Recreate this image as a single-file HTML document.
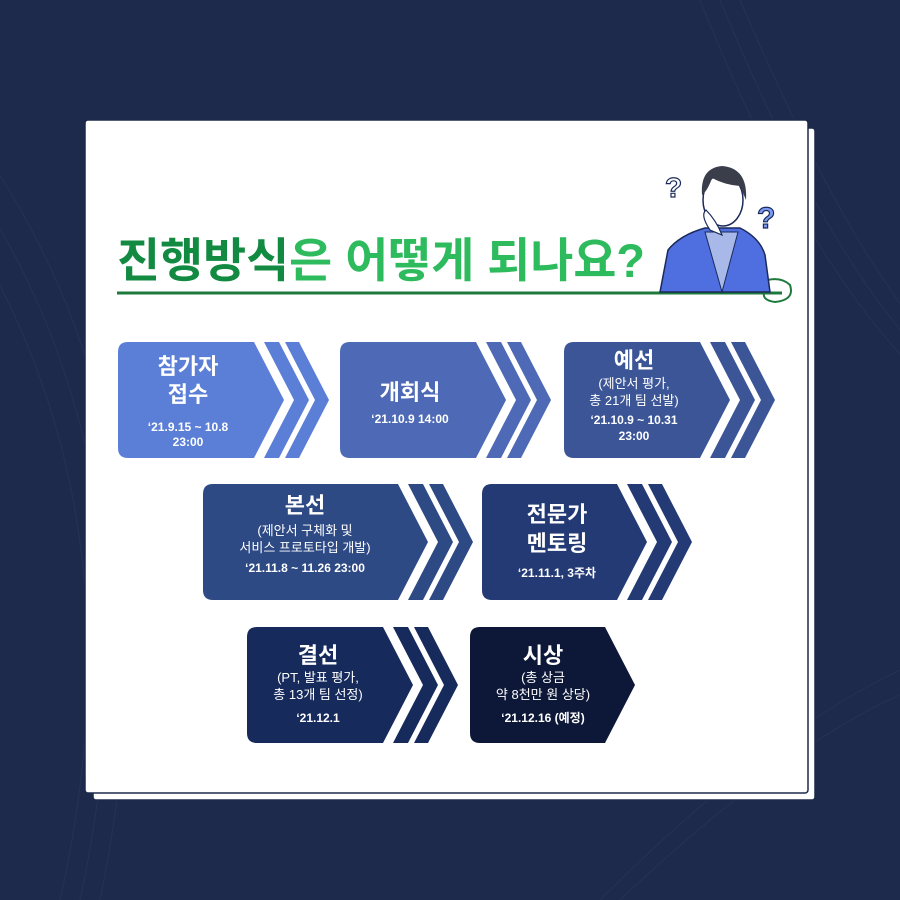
<!DOCTYPE html>
<html><head><meta charset="utf-8"><style>
html,body{margin:0;padding:0}
body{width:900px;height:900px;background:#1d2a4b;overflow:hidden;position:relative;font-family:"Liberation Sans","Noto Sans CJK KR",sans-serif}
</style></head><body>
<svg width="900" height="900" viewBox="0 0 900 900" xmlns="http://www.w3.org/2000/svg" style="position:absolute;left:0;top:0;font-family:'Liberation Sans','Noto Sans CJK KR',sans-serif">
<g fill="none" stroke="#2a3860" stroke-width="1" opacity="0.6">
<path d="M-50 200 Q150 500 60 900"/><path d="M-30 180 Q170 480 80 900"/><path d="M-10 160 Q190 460 100 900"/>
<path d="M700 0 Q820 300 950 400"/><path d="M720 0 Q840 290 950 380"/><path d="M740 0 Q860 280 950 360"/>
<path d="M600 900 Q800 700 950 650"/><path d="M620 900 Q810 720 950 675"/>
</g>
<rect x="93" y="128" width="722" height="672" rx="3" fill="#fff" stroke="#1d2a4b" stroke-width="1.5"/>
<rect x="85" y="120" width="723" height="673" rx="3" fill="#fff" stroke="#1d2a4b" stroke-width="1.5"/>
<text x="117" y="277" font-size="47" font-weight="bold" fill="#138a42" textLength="528" lengthAdjust="spacingAndGlyphs">진행방식<tspan fill="#2dbb5e">은 어떻게 되나요?</tspan></text>
<line x1="117" y1="293" x2="782" y2="293" stroke="#1e7a3c" stroke-width="3"/>
<path d="M740 293 Q775 270 790 285 Q795 300 775 302 Q760 300 765 290" fill="none" stroke="#1e7a3c" stroke-width="2"/>
<!-- person -->
<path d="M660 292 L668 250 Q680 235 705 228 L740 228 Q760 238 765 255 L770 292 Z" fill="#4f6fe0" stroke="#1a2a5a" stroke-width="1.5"/>
<path d="M705 232 L722 292 L738 232 Z" fill="#a8b8e8" stroke="#1a2a5a" stroke-width="1"/>
<ellipse cx="723" cy="200" rx="20" ry="26" fill="#fff" stroke="#1a2a5a" stroke-width="1.5"/>
<path d="M702 195 Q700 168 722 166 Q748 168 746 200 L740 186 Q725 185 712 178 Q708 190 702 195Z" fill="#3a3d4a"/>
<path d="M710 230 Q700 215 706 210 Q716 220 722 235 Z" fill="#fff" stroke="#1a2a5a" stroke-width="1.2"/>
<text x="665" y="197" font-size="28" fill="#fff" stroke="#1a2a5a" stroke-width="1.2" font-weight="bold">?</text>
<text x="757" y="228" font-size="30" fill="#7a9af0" stroke="#1a2a5a" stroke-width="1.2" font-weight="bold">?</text>
<g id="shapes"></g>
<g fill="#fff" text-anchor="middle" font-weight="bold">
<text x="188" y="374" font-size="22">참가자</text>
<text x="188" y="402" font-size="22">접수</text>
<text x="188" y="431" font-size="12">‘21.9.15 ~ 10.8</text>
<text x="188" y="446" font-size="12">23:00</text>
<text x="410" y="400" font-size="22">개회식</text>
<text x="410" y="423" font-size="12">‘21.10.9 14:00</text>
<text x="634" y="368" font-size="22">예선</text>
<text x="634" y="388" font-size="13" font-weight="normal">(제안서 평가,</text>
<text x="634" y="405" font-size="13" font-weight="normal">총 21개 팀 선발)</text>
<text x="634" y="424" font-size="12">‘21.10.9 ~ 10.31</text>
<text x="634" y="440" font-size="12">23:00</text>
<text x="305" y="513" font-size="22">본선</text>
<text x="305" y="535" font-size="13" font-weight="normal">(제안서 구체화 및</text>
<text x="305" y="552" font-size="13" font-weight="normal">서비스 프로토타입 개발)</text>
<text x="305" y="572" font-size="12">‘21.11.8 ~ 11.26 23:00</text>
<text x="557" y="522" font-size="22">전문가</text>
<text x="557" y="551" font-size="22">멘토링</text>
<text x="557" y="577" font-size="12">‘21.11.1, 3주차</text>
<text x="318" y="663" font-size="22">결선</text>
<text x="318" y="682" font-size="13" font-weight="normal">(PT, 발표 평가,</text>
<text x="318" y="699" font-size="13" font-weight="normal">총 13개 팀 선정)</text>
<text x="318" y="722" font-size="12">‘21.12.1</text>
<text x="543" y="663" font-size="22">시상</text>
<text x="543" y="682" font-size="13" font-weight="normal">(총 상금</text>
<text x="543" y="699" font-size="13" font-weight="normal">약 8천만 원 상당)</text>
<text x="543" y="722" font-size="12">‘21.12.16 (예정)</text>
</g>
</svg>
<script>
(function(){
var g=document.getElementById('shapes'),s='';
function box(l,tr,top,c,chev){
 var b=top+116,m=top+58,d=30,r=10;
 s+='<path fill="'+c+'" d="M'+(l+r)+' '+top+' L'+tr+' '+top+' L'+(tr+d)+' '+m+' L'+tr+' '+b+' L'+(l+r)+' '+b+' Q'+l+' '+b+' '+l+' '+(b-r)+' L'+l+' '+(top+r)+' Q'+l+' '+top+' '+(l+r)+' '+top+'Z"/>';
 if(chev){
  [[tr+10,15],[tr+31,14]].forEach(function(a){
   var x=a[0],w=a[1];
   s+='<polygon fill="'+c+'" points="'+x+','+top+' '+(x+w)+','+top+' '+(x+w+d)+','+m+' '+(x+w)+','+b+' '+x+','+b+' '+(x+d)+','+m+'"/>';
  });
 }
}
box(118,254,342,'#5b7fd6',1);
box(340,476,342,'#4e6ab6',1);
box(564,700,342,'#3b5597',1);
box(203,398,484,'#2e4a85',1);
box(482,617,484,'#243a75',1);
box(247,383,627,'#172a5c',1);
box(470,605,627,'#0d1838',0);
g.innerHTML=s;
})();
</script>
</body></html>
